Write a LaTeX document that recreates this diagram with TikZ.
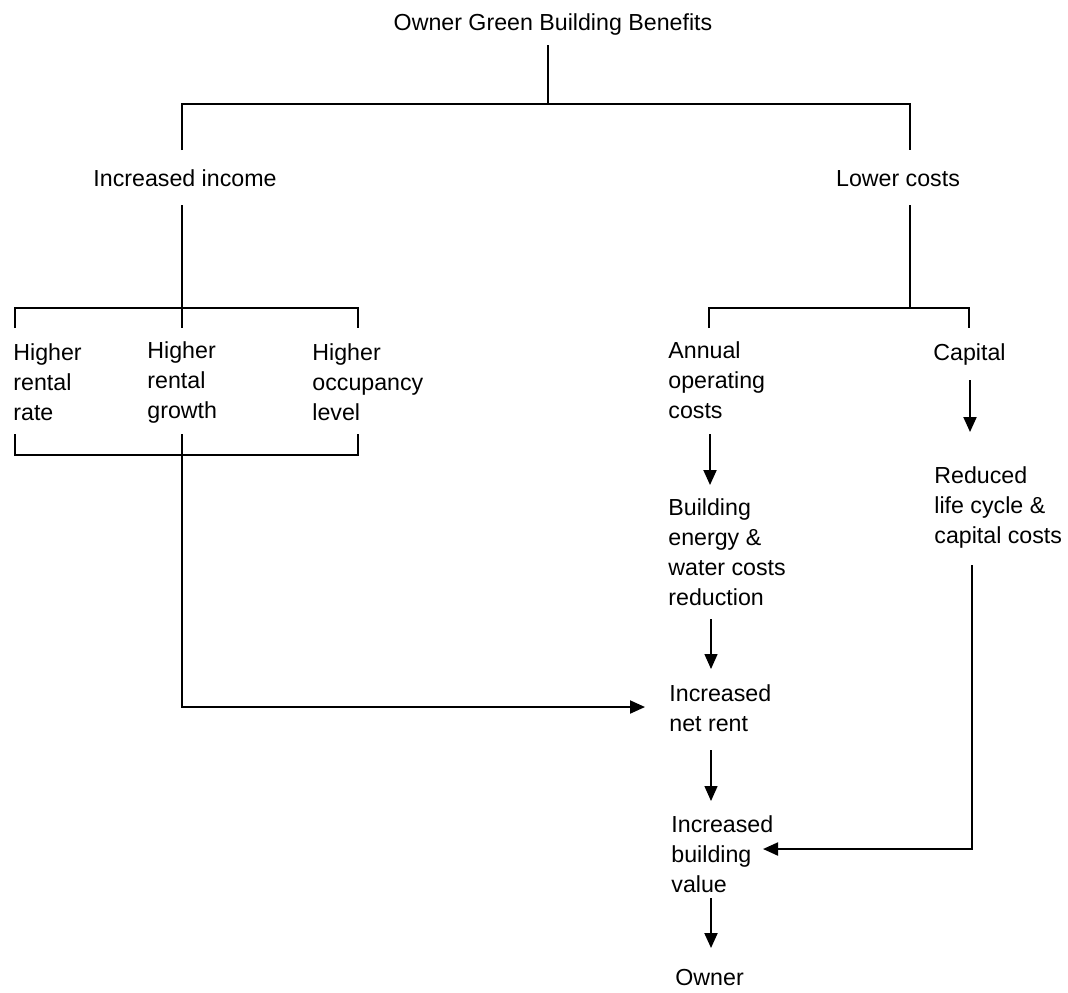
\documentclass[tikz,border=0pt]{standalone}
\usepackage{fontspec}
\setmainfont{Liberation Sans}
\usetikzlibrary{arrows.meta}
\begin{document}
\begin{tikzpicture}[x=0.5pt,y=-0.5pt,
  lbl/.style={inner sep=0pt, align=left, anchor=base west,
    font=\fontsize{11.6pt}{15pt}\selectfont},
  ttl/.style={inner sep=0pt, anchor=base,
    font=\fontsize{11.6pt}{15pt}\selectfont},
  link/.style={line width=1pt},
  arr/.style={line width=1pt, -{Triangle[length=7.5pt,width=6.5pt]}},
  thinarr/.style={line width=0.7pt, -{Triangle[length=7.5pt,width=6.5pt]}}]
\useasboundingbox (0,0) rectangle (1068,992);

% labels (multi-line labels are placed by the baseline of their last line)
\node[ttl] (title) at (553,30) {Owner Green Building Benefits};
\node[ttl] (income) at (185,186) {Increased income};
\node[ttl] (costs) at (898,186) {Lower costs};
\node[lbl] (rate) at (13,420) {Higher\\rental\\rate};
\node[lbl] (growth) at (147,418) {Higher\\rental\\growth};
\node[lbl] (occ) at (312,420) {Higher\\occupancy\\level};
\node[lbl] (annual) at (668,418) {Annual\\operating\\costs};
\node[lbl] (capital) at (933,360) {Capital};
\node[lbl] (energy) at (668,605) {Building\\energy \&\\water costs\\reduction};
\node[lbl] (reduced) at (934,543) {Reduced\\life cycle \&\\capital costs};
\node[lbl] (netrent) at (669,731) {Increased\\net rent};
\node[lbl] (value) at (671,892) {Increased\\building\\value};
\node[lbl] (owner) at (675,985) {Owner};

% junction points of the tree
\coordinate (top0) at (548,45);
\coordinate (top1) at (548,104);
\coordinate (topL) at (182,104);
\coordinate (topR) at (910,104);
\coordinate (topL2) at (182,150);
\coordinate (topR2) at (910,150);
\coordinate (inc0) at (182,205);
\coordinate (inc1) at (182,308);
\coordinate (cst0) at (910,205);
\coordinate (cst1) at (910,308);

% top split
\draw[link] (top0) -- (top1);
\draw[link] (topL2) -- (topL) -- (topR) -- (topR2);

% income bracket (upper)
\draw[link] (inc0) -- (inc1);
\draw[link] (15,328) -- (15,308) -- (358,308) -- (358,328);
\draw[link] (inc1) -- (182,328);

% income bracket (lower) and link to net rent
\draw[link] (15,434) -- (15,455) -- (358,455) -- (358,434);
\coordinate (g0) at (182,434);
\coordinate (g1) at (182,707);
\coordinate (g2) at (645,707);
\draw[arr] (g0) -- (g1) -- (g2);

% costs bracket
\draw[link] (cst0) -- (cst1);
\draw[link] (709,328) -- (709,308) -- (969,308) -- (969,328);

% flow arrows
\coordinate (a0) at (710,434);
\coordinate (a1) at (710,485);
\draw[arr] (a0) -- (a1);
\coordinate (c0) at (970,380);
\coordinate (c1) at (970,432);
\draw[arr] (c0) -- (c1);
\coordinate (e0) at (711,619);
\coordinate (e1) at (711,669);
\draw[thinarr] (e0) -- (e1);
\coordinate (n0) at (711,750);
\coordinate (n1) at (711,801);
\draw[thinarr] (n0) -- (n1);
\coordinate (v0) at (711,898);
\coordinate (v1) at (711,948);
\draw[arr] (v0) -- (v1);
\coordinate (r0) at (972,565);
\coordinate (r1) at (972,849);
\coordinate (r2) at (763,849);
\draw[arr] (r0) -- (r1) -- (r2);
\end{tikzpicture}
\end{document}
